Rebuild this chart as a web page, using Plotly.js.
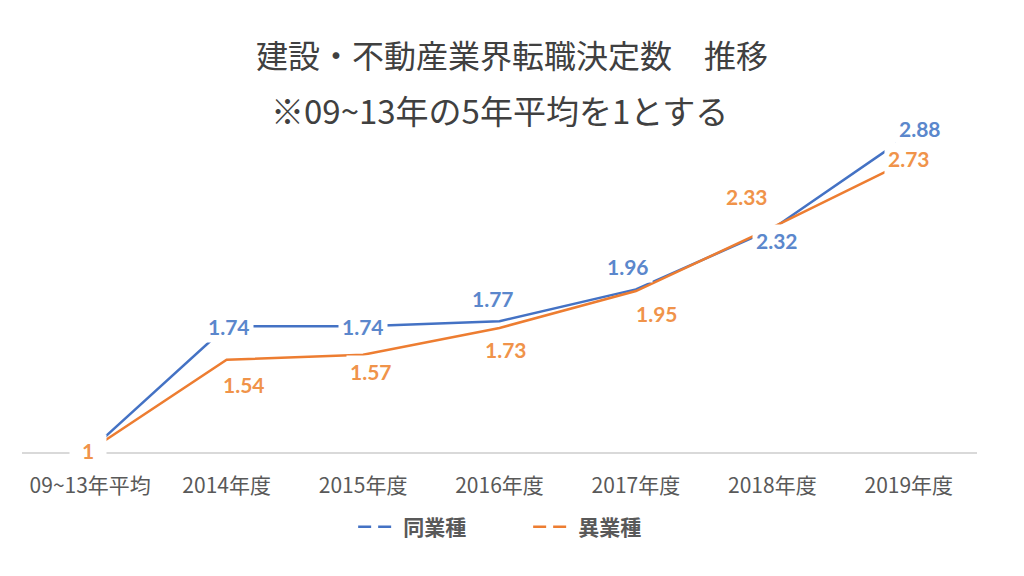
<!DOCTYPE html>
<html>
<head>
<meta charset="utf-8">
<script src="https://cdn.plot.ly/plotly-3.0.1.min.js"></script>
<style>html,body{margin:0;padding:0;background:#fff;}#chart{width:1024px;height:576px;}</style>
</head>
<body>
<div id="chart"></div>
<script>
const categories = ["09~13年平均", "2014年度", "2015年度", "2016年度", "2017年度", "2018年度", "2019年度"];
const sameIndustry = [1, 1.74, 1.74, 1.77, 1.96, 2.32, 2.88];
const otherIndustry = [1, 1.54, 1.57, 1.73, 1.95, 2.33, 2.73];
const seriesNames = ["同業種", "異業種"];
const titleLine1 = "建設・不動産業界転職決定数　推移";
const titleLine2 = "※09~13年の5年平均を1とする";

// label offsets (px) - styling only
const blueShift = [[0,0],[2,0],[0,0],[-7,23],[-8,23],[5,-11],[11,7]];
const orangeShift = [[-2,0],[17,-25],[8,-17],[6,-22],[21,-22],[-25,31],[0,2]];

const BLUE = "#4472C4", ORANGE = "#ED7D31";
const CJK = "'Noto Sans CJK JP', 'Noto Sans', sans-serif";
const NUM = "Lato, 'Noto Sans', sans-serif";

const traces = [
  {x: categories, y: sameIndustry, type: "scatter", mode: "lines", name: seriesNames[0],
   line: {color: BLUE, width: 2.5}, showlegend: false, hoverinfo: "skip"},
  {x: categories, y: otherIndustry, type: "scatter", mode: "lines", name: seriesNames[1],
   line: {color: ORANGE, width: 2.5}, showlegend: false, hoverinfo: "skip"},
  {x: [categories[0]], y: [null], type: "scatter", mode: "lines", name: seriesNames[0],
   line: {color: BLUE, width: 2.5, dash: "13px,7px"}, showlegend: true},
  {x: [categories[0]], y: [null], type: "scatter", mode: "lines", name: seriesNames[1],
   line: {color: ORANGE, width: 2.5, dash: "13px,7px"}, showlegend: true}
];

function labelBox(v) {
  const t = String(v);
  return t.length === 1 ? 30 : undefined;
}

const annotations = [];
sameIndustry.forEach((v, i) => {
  if (i === 0 && v === otherIndustry[0]) return; // coincident with the orange label, hidden beneath it
  annotations.push({x: categories[i], y: v, xref: "x", yref: "y", text: String(v), showarrow: false,
    xshift: blueShift[i][0], yshift: blueShift[i][1], bgcolor: "#ffffff", borderpad: 3, width: labelBox(v),
    font: {family: NUM, size: 21, color: "#5B87CC", weight: "bold"}});
});
otherIndustry.forEach((v, i) => {
  annotations.push({x: categories[i], y: v, xref: "x", yref: "y", text: String(v), showarrow: false,
    xshift: orangeShift[i][0], yshift: orangeShift[i][1], bgcolor: "#ffffff", borderpad: 3, width: labelBox(v),
    font: {family: NUM, size: 21, color: "#F0934A", weight: "bold"}});
});
annotations.push({x: 0.5, y: 1.015, xref: "paper", yref: "paper", text: titleLine2, showarrow: false,
  xanchor: "center", yanchor: "middle", font: {family: CJK, size: 33, color: "#404040"}});

const layout = {
  width: 1024, height: 576,
  margin: {l: 22, r: 47, t: 115, b: 124},
  paper_bgcolor: "#ffffff", plot_bgcolor: "#ffffff",
  title: {text: titleLine1, x: 0.5, xanchor: "center", y: 1 - 57/576, yanchor: "middle", yref: "container",
          font: {family: CJK, size: 32, color: "#404040"}},
  xaxis: {type: "category", range: [-0.5, 6.5], showgrid: false, zeroline: false,
          showline: true, linecolor: "#D9D9D9", linewidth: 1.5, ticks: "", ticklabelstandoff: 14,
          tickfont: {family: CJK, size: 21, color: "#595959"}, fixedrange: true},
  yaxis: {range: [0.99, 3.0], visible: false, showgrid: false, zeroline: false, fixedrange: true},
  showlegend: true,
  legend: {orientation: "h", x: 0.53, xanchor: "center", y: -0.223, yanchor: "middle",
           font: {family: CJK, size: 21, color: "#595959", weight: "bold"}, entrywidth: 120, itemwidth: 40},
  annotations: annotations
};

Plotly.newPlot("chart", traces, layout, {staticPlot: true, displayModeBar: false});
</script>
</body>
</html>
